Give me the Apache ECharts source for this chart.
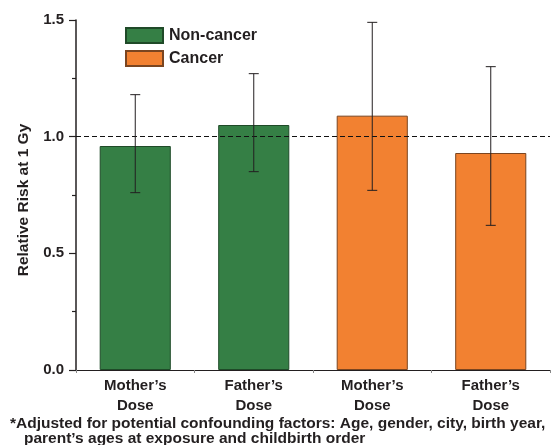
<!DOCTYPE html>
<html><head><meta charset="utf-8">
<script src="https://cdn.jsdelivr.net/npm/echarts@6/dist/echarts.min.js"></script>
<style>html,body{margin:0;padding:0;background:#fff}#c{width:553px;height:445px}</style>
</head><body><div id="c"></div>
<script>
var categories = ["Mother\u2019s\nDose", "Father\u2019s\nDose", "Mother\u2019s\nDose", "Father\u2019s\nDose"];
var nonCancer = [0.96, 1.05, null, null];
var cancer = [null, null, 1.09, 0.93];
var errLow = [0.76, 0.85, 0.77, 0.62];
var errHigh = [1.18, 1.27, 1.49, 1.30];
var refLine = 1.0;
var footnote = ["*Adjusted for potential confounding factors: Age, gender, city, birth year,", "parent\u2019s ages at exposure and childbirth order"];

var FONT = '"Liberation Sans", Arial, sans-serif';
var chart = echarts.init(document.getElementById('c'));
var errData = categories.map(function(c, i){ return [i, errLow[i], errHigh[i]]; });
chart.setOption({
  animation: false,
  grid: {left: 76, right: 3, top: 20, bottom: 75},
  legend: {
    orient: 'vertical', left: 125, top: 27, itemWidth: 37, itemHeight: 15, itemGap: 6,
    padding: 0, icon: 'rect',
    textStyle: {fontFamily: FONT, fontWeight: 'bold', fontSize: 16, color: '#231f20', padding: [0,0,0,1]},
    data: ['Non-cancer', 'Cancer']
  },
  xAxis: {
    type: 'category', data: categories,
    axisLine: {lineStyle: {color: '#231f20', width: 1}},
    axisTick: {show: true, length: 3, lineStyle: {color: '#888'}},
    axisLabel: {fontFamily: FONT, fontWeight: 'bold', fontSize: 15, color: '#231f20', margin: 6, lineHeight: 20}
  },
  yAxis: {
    type: 'value', min: 0, max: 1.5, interval: 0.5,
    name: 'Relative Risk at 1 Gy', nameLocation: 'middle', nameGap: 44,
    nameTextStyle: {fontFamily: FONT, fontWeight: 'bold', fontSize: 15.5, color: '#231f20', padding: [0, 10, 0, 0]},
    axisLine: {show: true, lineStyle: {color: '#231f20', width: 1.5}},
    axisTick: {show: true, inside: false, length: 7, lineStyle: {color: '#231f20', width: 1.2}},
    minorTick: {show: true, splitNumber: 2, length: 4, lineStyle: {color: '#231f20', width: 1.2}},
    splitLine: {show: false},
    axisLabel: {fontFamily: FONT, fontWeight: 'bold', fontSize: 15, color: '#231f20', margin: 12,
      formatter: function(v){ return v.toFixed(1); }}
  },
  series: [
    {name: 'Non-cancer', type: 'bar', data: nonCancer, barWidth: '60%', barGap: '-100%',
      itemStyle: {color: '#357f45', borderColor: '#1f4a28', borderWidth: 1},
      markLine: {silent: true, symbol: 'none', label: {show: false},
        lineStyle: {color: '#111', type: [5, 3], width: 1.2}, data: [{yAxis: refLine}]}},
    {name: 'Cancer', type: 'bar', data: cancer, barWidth: '60%',
      itemStyle: {color: '#f28131', borderColor: '#7a4520', borderWidth: 1}},
    {name: 'err', type: 'custom', data: errData, z: 10,
      renderItem: function(params, api){
        var x = api.value(0);
        var lo = api.coord([x, api.value(1)]);
        var hi = api.coord([x, api.value(2)]);
        var cap = 5;
        var st = {stroke: '#231f20', lineWidth: 1};
        return {type: 'group', children: [
          {type: 'line', shape: {x1: lo[0], y1: lo[1], x2: hi[0], y2: hi[1]}, style: st},
          {type: 'line', shape: {x1: lo[0]-cap, y1: lo[1], x2: lo[0]+cap, y2: lo[1]}, style: st},
          {type: 'line', shape: {x1: hi[0]-cap, y1: hi[1], x2: hi[0]+cap, y2: hi[1]}, style: st}
        ]};
      }}
  ],
  graphic: [
    {type: 'text', left: 10, top: 416, style: {text: footnote[0], font: 'bold 15.5px ' + FONT, fill: '#231f20'}},
    {type: 'text', left: 24, top: 431, style: {text: footnote[1], font: 'bold 15.5px ' + FONT, fill: '#231f20'}}
  ]
});
</script></body></html>
